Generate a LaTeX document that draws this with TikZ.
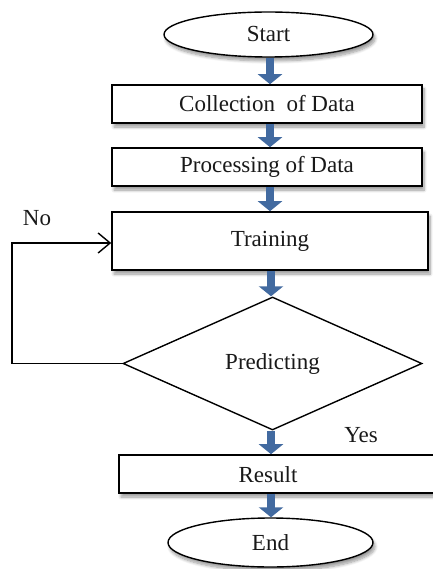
\documentclass[tikz,border=0pt]{standalone}
\usepackage{fontspec}
\setmainfont{Liberation Serif}
\usetikzlibrary{shapes.geometric,arrows.meta,shadows.blur}

\definecolor{flowblue}{RGB}{66,106,160}

\tikzset{
  lbl/.style={font=\fontsize{23}{27}\selectfont, text=black!90, inner sep=0pt},
  soft/.style={blur shadow={shadow xshift=2pt, shadow yshift=-4pt, shadow blur steps=8, shadow blur radius=3pt, shadow opacity=40}},
  stepbox/.style={draw=black, line width=1.6pt, fill=white, rectangle, inner sep=0pt, soft},
  terminal/.style={draw=black, line width=1.4pt, fill=white, ellipse, inner sep=0pt, soft},
  decision/.style={draw=black, line width=1.4pt, fill=white, diamond, inner sep=0pt},
  flow/.style={flowblue, line width=8pt, -{Triangle[length=10pt,width=24pt]}},
  loop/.style={black, line width=1.4pt, -{Straight Barb[length=12pt,width=20pt,line width=1.4pt]}}
}

\begin{document}
\begin{tikzpicture}[x=1pt,y=-1pt]
  \useasboundingbox (0,0) rectangle (432,569);

  % terminals
  \node[terminal, minimum width=209pt, minimum height=45pt, lbl] (start) at (268.5,34.5) {Start};
  \node[terminal, minimum width=205pt, minimum height=49pt, lbl] (end) at (270.5,542.5) {End};

  % process boxes
  \node[stepbox, minimum width=310pt, minimum height=38pt, lbl] (collect) at (267,104) {Collection\ \ of Data};
  \node[stepbox, minimum width=310pt, minimum height=38pt, lbl] (process) at (267,167) {Processing of Data};
  \node[stepbox, minimum width=316pt, minimum height=58pt, lbl] (train) at (270,241) {Training};
  \node[stepbox, minimum width=321pt, minimum height=38pt] (result) at (279.5,474) {};
  \node[lbl] (resulttext) at (268,475) {Result};

  % decision
  \node[decision, shape aspect=2.25, minimum width=299pt, minimum height=133pt, lbl] (predict) at (272.5,363.5) {Predicting};

  % branch labels
  \node[lbl] (no) at (37,218) {No};
  \node[lbl] (yes) at (361,435) {Yes};

  % main flow arrows
  \draw[flow] (start.south -| 270,0) -- (collect.north -| 270,0);
  \draw[flow] (collect.south -| 270,0) -- (process.north -| 270,0);
  \draw[flow] (process.south -| 270,0) -- (train.north -| 270,0);
  \draw[flow] (train.south -| 271,0) -- (predict.north -| 271,0);
  \draw[flow] (predict.south -| 271,0) -- (result.north -| 271,0);
  \draw[flow] (result.south -| 271,0) -- (end.north -| 271,0);

  % retraining loop
  \coordinate (loopcorner) at (12,363.5);
  \draw[loop] (predict.west) -- (loopcorner) |- (train.west |- 0,243);
\end{tikzpicture}
\end{document}
